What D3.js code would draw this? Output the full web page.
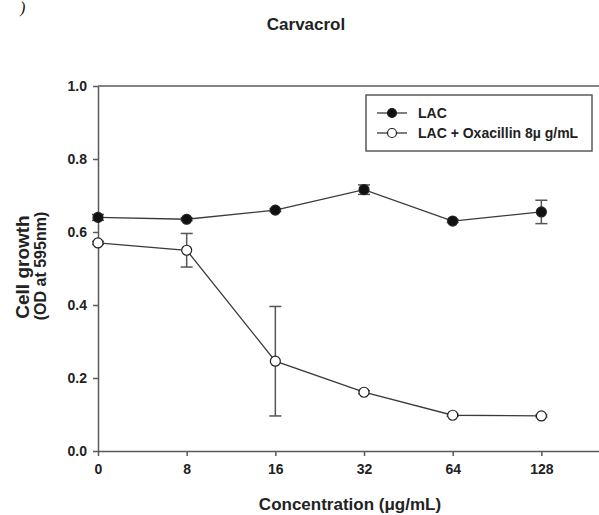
<!DOCTYPE html>
<html>
<head>
<meta charset="utf-8">
<script src="https://cdn.jsdelivr.net/npm/d3@7/dist/d3.min.js"></script>
<style>
  html, body { margin: 0; padding: 0; background: #fff; }
  svg { display: block; font-family: "Liberation Sans", Arial, sans-serif; }
</style>
</head>
<body>
<svg id="chart" width="599" height="515"></svg>
<script>
// ---- data ----
const concentrations = ["0", "8", "16", "32", "64", "128"];
const lacValues = [0.640, 0.635, 0.660, 0.716, 0.630, 0.655];
const lacErrors = [0.008, 0.004, 0.004, 0.013, 0.004, 0.032];
const oxaValues = [0.570, 0.550, 0.246, 0.161, 0.098, 0.096];
const oxaErrors = [0.004, 0.046, 0.150, 0.004, 0.003, 0.003];
const yTicks = [0.0, 0.2, 0.4, 0.6, 0.8, 1.0];
const seriesNames = ["LAC", "LAC + Oxacillin 8\u00b5 g/mL"];

const svg = d3.select("#chart");
const axisColor = "#5a5a5a";
const lineColor = "#3a3a3a";

const x = d3.scaleLinear().domain([0, 5.65]).range([98, 599]);
const y = d3.scaleLinear().domain([0, 1]).range([451, 86]);

// partial panel label at top-left
svg.append("text").attr("x", 20).attr("y", 13)
  .attr("font-family", "Liberation Serif, serif").attr("font-style", "italic")
  .attr("font-size", 16).attr("fill", "#111").text(")");

// title
svg.append("text").attr("x", 306).attr("y", 29.5).attr("text-anchor", "middle")
  .attr("font-weight", "bold").attr("font-size", 17).attr("fill", "#222").text("Carvacrol");

// top frame line
svg.append("line").attr("x1", x(0)).attr("x2", 599).attr("y1", y(1)).attr("y2", y(1))
  .attr("stroke", axisColor).attr("stroke-width", 1.5);

// y axis
const yAxis = svg.append("g").attr("transform", `translate(${x(0)},0)`)
  .call(d3.axisLeft(y).tickValues(yTicks).tickFormat(d3.format(".1f")).tickSize(5).tickSizeOuter(0).tickPadding(6));
yAxis.selectAll("path, line").attr("stroke", axisColor).attr("stroke-width", 1.5);
yAxis.selectAll("text").attr("font-size", 14).attr("font-weight", "bold").attr("fill", "#222")
  .attr("font-family", "Liberation Sans, Arial, sans-serif");

// x axis
const xAxis = svg.append("g").attr("transform", `translate(0,${y(0)})`)
  .call(d3.axisBottom(x).tickValues(d3.range(concentrations.length))
    .tickFormat(i => concentrations[i]).tickSize(5).tickSizeOuter(0).tickPadding(8));
xAxis.selectAll("path, line").attr("stroke", axisColor).attr("stroke-width", 1.5);
xAxis.selectAll("text").attr("font-size", 14).attr("font-weight", "bold").attr("fill", "#222")
  .attr("font-family", "Liberation Sans, Arial, sans-serif");

// axis titles
svg.append("text").attr("x", 350).attr("y", 510).attr("text-anchor", "middle")
  .attr("font-weight", "bold").attr("font-size", 17).attr("fill", "#222")
  .text("Concentration (\u03bcg/mL)");

svg.append("text").attr("transform", "translate(29,267) rotate(-90)").attr("text-anchor", "middle")
  .attr("font-weight", "bold").attr("font-size", 19).attr("fill", "#222").text("Cell growth");
svg.append("text").attr("transform", "translate(46,266) rotate(-90)").attr("text-anchor", "middle")
  .attr("font-weight", "bold").attr("font-size", 16).attr("fill", "#222").text("(OD at 595nm)");

// series
const series = [
  { values: lacValues, errors: lacErrors, fill: "#111" },
  { values: oxaValues, errors: oxaErrors, fill: "#fff" }
];
const line = d3.line().x((d, i) => x(i)).y(d => y(d));

series.forEach(s => {
  const g = svg.append("g");
  // error bars
  s.values.forEach((v, i) => {
    const e = s.errors[i];
    const x0 = x(i);
    g.append("line").attr("x1", x0).attr("x2", x0).attr("y1", y(v + e)).attr("y2", y(v - e))
      .attr("stroke", "#555").attr("stroke-width", 1.5);
    [v + e, v - e].forEach(c => {
      g.append("line").attr("x1", x0 - 6).attr("x2", x0 + 6).attr("y1", y(c)).attr("y2", y(c))
        .attr("stroke", "#555").attr("stroke-width", 1.5);
    });
  });
  g.append("path").datum(s.values).attr("d", line).attr("fill", "none")
    .attr("stroke", lineColor).attr("stroke-width", 1.3);
  g.selectAll("circle").data(s.values).join("circle")
    .attr("cx", (d, i) => x(i)).attr("cy", d => y(d)).attr("r", 5)
    .attr("fill", s.fill).attr("stroke", "#222").attr("stroke-width", 1.2);
});

// legend
const lg = svg.append("g");
lg.append("rect").attr("x", 366).attr("y", 95).attr("width", 226).attr("height", 56)
  .attr("fill", "#fff").attr("stroke", axisColor).attr("stroke-width", 1.5);
seriesNames.forEach((name, i) => {
  const cy = 113 + i * 20;
  lg.append("line").attr("x1", 377).attr("x2", 407).attr("y1", cy).attr("y2", cy)
    .attr("stroke", lineColor).attr("stroke-width", 1.3);
  lg.append("circle").attr("cx", 392).attr("cy", cy).attr("r", 4.5)
    .attr("fill", series[i].fill).attr("stroke", "#222").attr("stroke-width", 1.2);
  lg.append("text").attr("x", 418).attr("y", cy + 5).attr("font-weight", "bold")
    .attr("font-size", 14).attr("fill", "#222").text(name);
});
</script>
</body>
</html>
